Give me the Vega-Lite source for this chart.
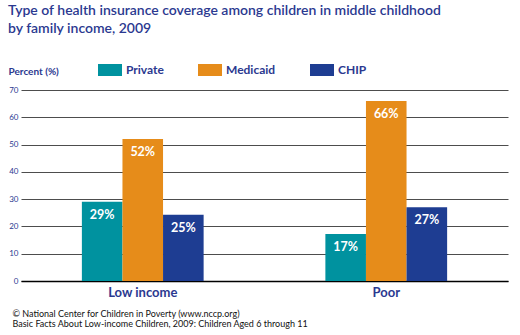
{
  "$schema": "https://vega.github.io/schema/vega-lite/v6.json",
  "autosize": "none",
  "width": 487,
  "height": 191,
  "padding": {"left": 21, "top": 90, "right": 12, "bottom": 54},
  "background": "white",
  "config": {
    "font": "Lato",
    "view": {"stroke": null}
  },
  "title": {
    "text": ["Type of health insurance coverage among children in middle childhood", "by family income, 2009"],
    "anchor": "start",
    "frame": "group",
    "dx": -13,
    "fontSize": 14,
    "fontWeight": 600,
    "color": "#2B3990",
    "lineHeight": 18,
    "offset": 22
  },
  "data": {
    "values": [
      {"income": "Low income", "type": "Private", "value": 29, "label": "29%"},
      {"income": "Low income", "type": "Medicaid", "value": 52, "label": "52%"},
      {"income": "Low income", "type": "CHIP", "value": 24.3, "label": "25%"},
      {"income": "Poor", "type": "Private", "value": 17.2, "label": "17%"},
      {"income": "Poor", "type": "Medicaid", "value": 66, "label": "66%"},
      {"income": "Poor", "type": "CHIP", "value": 27, "label": "27%"}
    ]
  },
  "encoding": {
    "x": {
      "field": "income",
      "type": "nominal",
      "sort": ["Low income", "Poor"],
      "scale": {"paddingInner": 0.5, "paddingOuter": 0.25},
      "axis": {
        "labelAngle": 0,
        "labelFontSize": 13,
        "labelFontWeight": "bold",
        "labelColor": "#2B3990",
        "labelPadding": 5,
        "ticks": false,
        "domainColor": "#000000",
        "domainWidth": 1.5,
        "title": ["© National Center for Children in Poverty (www.nccp.org)", "\u00a0\u00a0\u00a0Basic Facts About Low-income Children, 2009: Children Aged 6 through 11"],
        "titleFontSize": 9,
        "titleFontWeight": "normal",
        "titleColor": "#111111",
        "titleAnchor": "start",
        "titleAlign": "left",
        "titleBaseline": "top",
        "titleX": -9,
        "titleY": 28,
        "titleLineHeight": 10
      }
    },
    "xOffset": {"field": "type", "type": "nominal", "sort": ["Private", "Medicaid", "CHIP"]},
    "y": {
      "field": "value",
      "type": "quantitative",
      "scale": {"domain": [0, 70]},
      "axis": {
        "values": [0, 10, 20, 30, 40, 50, 60, 70],
        "labelFontSize": 8,
        "labelColor": "#2B3990",
        "labelPadding": 3,
        "ticks": false,
        "domain": false,
        "gridColor": "#4d4d4d",
        "gridWidth": 1,
        "title": "Percent (%)",
        "titleAngle": 0,
        "titleAlign": "left",
        "titleBaseline": "bottom",
        "titleX": -13,
        "titleY": -14,
        "titleFontSize": 10,
        "titleFontWeight": "bold",
        "titleColor": "#2B3990"
      }
    }
  },
  "layer": [
    {
      "mark": {"type": "bar"},
      "encoding": {
        "color": {
          "field": "type",
          "type": "nominal",
          "sort": ["Private", "Medicaid", "CHIP"],
          "scale": {"domain": ["Private", "Medicaid", "CHIP"], "range": ["#00929F", "#E68C1A", "#1E3D92"]},
          "legend": {
            "title": null,
            "orient": "none",
            "legendX": 77,
            "legendY": -32,
            "direction": "horizontal",
            "symbolType": "M-1,-0.5H1V0.5H-1Z",
            "symbolSize": 576,
            "symbolStrokeWidth": 0,
            "symbolOpacity": 1,
            "labelFontSize": 12,
            "labelFontWeight": "bold",
            "labelColor": "#2B3990",
            "labelOffset": 4,
            "columnPadding": 34
          }
        }
      }
    },
    {
      "mark": {"type": "text", "color": "white", "fontSize": 12.5, "fontWeight": "bold", "baseline": "middle", "dy": 13},
      "encoding": {
        "text": {"field": "label"}
      }
    }
  ]
}
